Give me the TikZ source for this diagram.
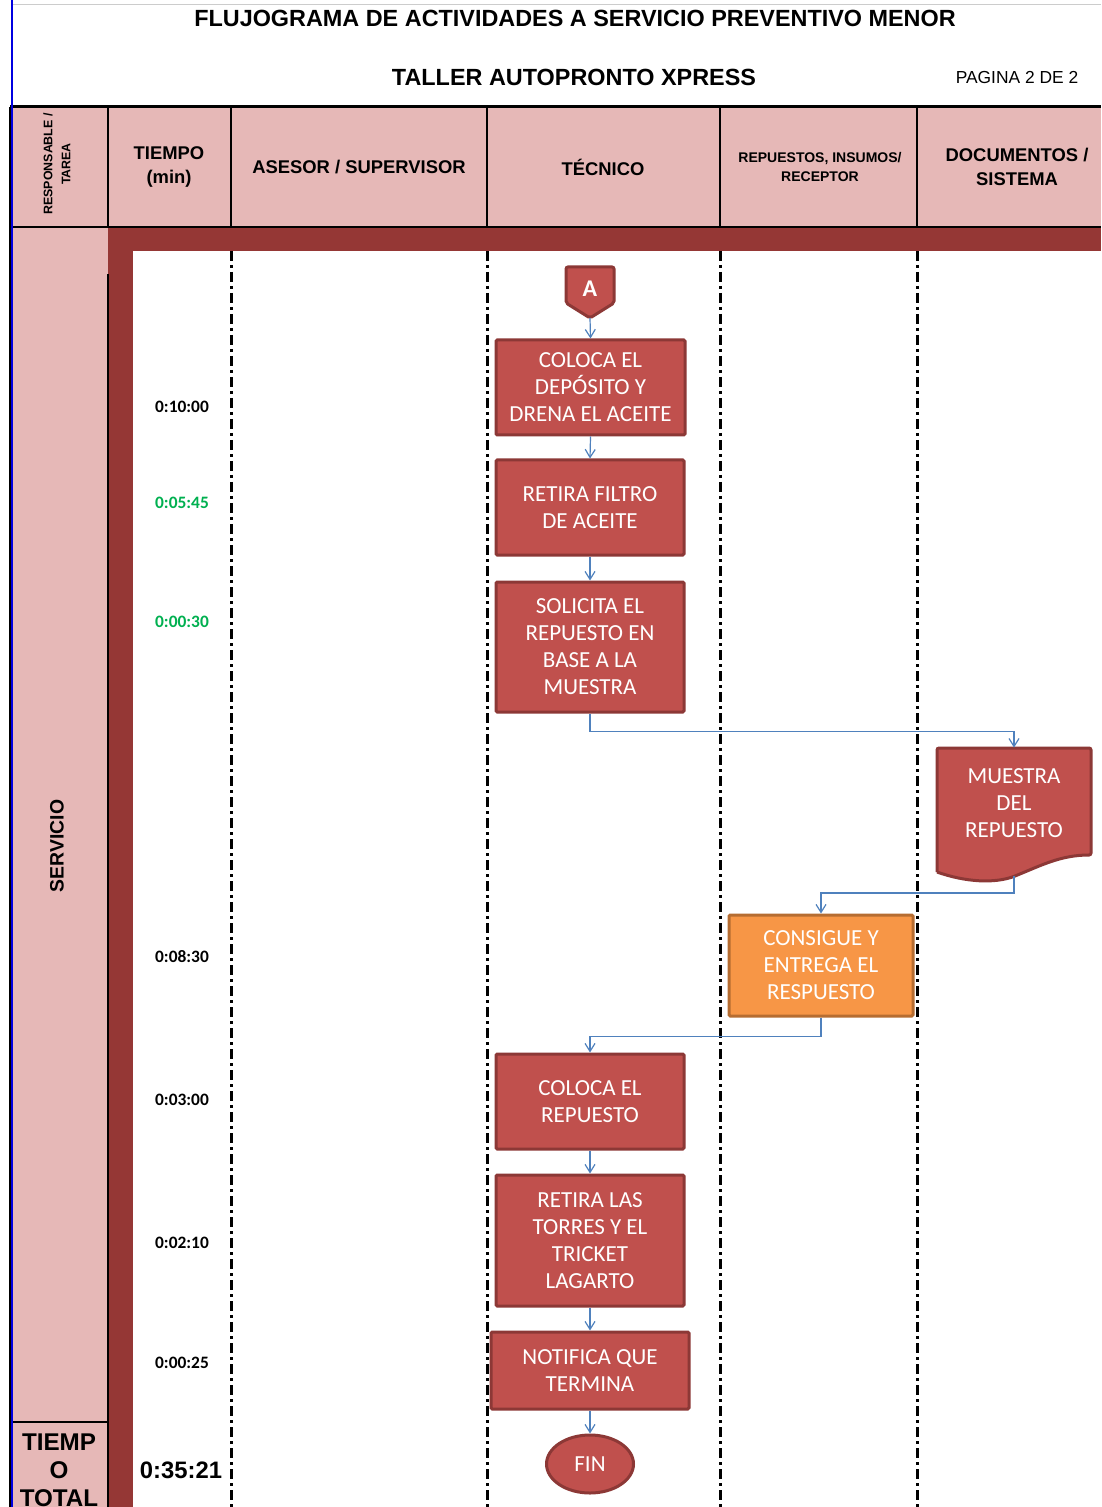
\documentclass[tikz,border=0pt]{standalone}
\usepackage{fontspec}
\setmainfont{Liberation Sans}
\newfontfamily\calib{Carlito}
\usetikzlibrary{arrows.meta,calc,shapes.geometric}
\definecolor{pinkhd}{HTML}{E6B8B7}
\definecolor{band}{HTML}{953735}
\definecolor{boxfill}{HTML}{C0504D}
\definecolor{boxline}{HTML}{8C3836}
\definecolor{orfill}{HTML}{F79646}
\definecolor{orline}{HTML}{B66D31}
\definecolor{flow}{HTML}{4F81BD}
\definecolor{timegreen}{HTML}{00B050}
\definecolor{edgeblue}{HTML}{0000E0}

\begin{document}
\begin{tikzpicture}[x=0.5pt,y=-0.5pt,
  proc/.style={draw=boxline, line width=1.5pt, fill=boxfill, text=white,
    font=\calib\fontsize{11.5}{13.5}\selectfont, align=center, inner sep=0pt,
    rounded corners=0.6pt},
  orproc/.style={proc, draw=orline, fill=orfill},
  hdr/.style={font=\bfseries\fontsize{9.2}{12}\selectfont, align=center, inner sep=0pt},
  tlabel/.style={font=\calib\bfseries\fontsize{8.7}{10}\selectfont, inner sep=0pt},
  lane/.style={line width=1.5pt, dash pattern=on 5pt off 2pt on 1.5pt off 2pt},
  flow/.style={draw=flow, line width=0.6pt, -{Straight Barb[length=4pt,width=5pt]}}]

\useasboundingbox (0,0) rectangle (1101,1507);
\fill[white] (0,0) rectangle (1101,1507);

% title block
\draw[gray!40, line width=0.4pt] (12,4) -- (1101,4);
\node[font=\bfseries\fontsize{11.7}{14}\selectfont, inner sep=0pt] (title) at (575,18)
  {FLUJOGRAMA DE ACTIVIDADES A SERVICIO PREVENTIVO MENOR};
\node[font=\bfseries\fontsize{11.7}{14}\selectfont, inner sep=0pt] (shop) at (574,77)
  {TALLER AUTOPRONTO XPRESS};
\node[font=\fontsize{8.7}{10}\selectfont, inner sep=0pt] (page) at (1017,78) {PAGINA 2 DE 2};

% header row and left column fills
\fill[pinkhd] (10,107) rectangle (1101,227);
\fill[pinkhd] (10,227) rectangle (108,1507);

% dark frame band
\fill[band] (108,227) rectangle (1101,251);
\fill[band] (108,227) rectangle (133,1507);

% header rules
\draw[line width=1.5pt] (10,107) -- (1101,107);
\draw[line width=1pt] (10,227) -- (1101,227);
\foreach \cx in {108,231,487,720,917}
  \draw[line width=1pt] (\cx,107) -- (\cx,227);
\draw[line width=1pt] (108,274) -- (108,1507);
\draw[line width=1pt] (10,1422) -- (108,1422);
\draw[line width=1pt] (10,107) -- (10,1507);
\draw[edgeblue, line width=0.9pt] (11.8,0) -- (11.8,1507);

% swimlane separators
\foreach \cx in {231,487,720,917}
  \draw[lane] (\cx,251) -- (\cx,1507);

% header texts
\begin{scope}
  \clip (12,108) rectangle (107,226);
  \node[font=\bfseries\fontsize{6.2}{9}\selectfont, align=center, rotate=90, inner sep=0pt]
    (resp) at (57,164) {RESPONSABLE /\\TAREA};
\end{scope}
\node[hdr] (htime) at (169,167) {TIEMPO\\(min)};
\node[hdr] (hases) at (359,167) {ASESOR / SUPERVISOR};
\node[hdr] (htec) at (603,167) {TÉCNICO};
\node[hdr, font=\bfseries\fontsize{7}{9.5}\selectfont] (hrep) at (820,167) {REPUESTOS, INSUMOS/\\RECEPTOR};
\node[hdr] (hdoc) at (1017,167) {DOCUMENTOS /\\SISTEMA};

% left column labels
\node[font=\bfseries\fontsize{9.7}{12}\selectfont, rotate=90, inner sep=0pt] (serv) at (57,846) {SERVICIO};
\begin{scope}
  \clip (11,1423) rectangle (107,1507);
  \node[font=\bfseries\fontsize{12.1}{14}\selectfont, align=center, inner sep=0pt]
    (ttot) at (59,1470) {TIEMP\\O\\TOTAL};
\end{scope}

% times
\node[tlabel] (t1) at (182,407) {0:10:00};
\node[tlabel, text=timegreen] (t2) at (182,503) {0:05:45};
\node[tlabel, text=timegreen] (t3) at (182,622) {0:00:30};
\node[tlabel] (t4) at (182,957) {0:08:30};
\node[tlabel] (t5) at (182,1100) {0:03:00};
\node[tlabel] (t6) at (182,1243) {0:02:10};
\node[tlabel] (t7) at (182,1363) {0:00:25};
\node[font=\bfseries\fontsize{11.9}{14}\selectfont, inner sep=0pt] (ttotal) at (181,1470) {0:35:21};

% off-page connector A
\draw[draw=boxline, line width=1.5pt, fill=boxfill, rounded corners=1pt]
  (566,267) -- (614,267) -- (614,303) -- (590,318) -- (566,303) -- cycle;
\node[font=\calib\bfseries\fontsize{12}{14}\selectfont, text=white, inner sep=0pt] (conA) at (590,289) {A};
\coordinate (conAtip) at (590,318);

% process steps
\node[proc, minimum width=94.5pt, minimum height=47.5pt] (b1) at (590.5,387.5)
  {COLOCA EL\\DEPÓSITO Y\\DRENA EL ACEITE};
\node[proc, minimum width=94pt, minimum height=47.5pt] (b2) at (590,507.5)
  {RETIRA FILTRO\\DE ACEITE};
\node[proc, minimum width=94pt, minimum height=65pt] (b3) at (590,647)
  {SOLICITA EL\\REPUESTO EN\\BASE A LA\\MUESTRA};

% document shape
\draw[draw=boxline, line width=1.5pt, fill=boxfill, rounded corners=1pt]
  (937,872) -- (937,748) -- (1091,748) -- (1091,855)
  [sharp corners] .. controls (1060,855) and (1040,866) .. (1015,876)
  .. controls (995,884) and (965,882) .. (937,872);
\node[minimum width=77pt, minimum height=53.5pt, inner sep=0pt] (doc) at (1014,801.5) {};
\node[font=\calib\fontsize{11.5}{13.5}\selectfont, text=white, align=center, inner sep=0pt]
  (doctxt) at (1014,803) {MUESTRA\\DEL\\REPUESTO};
\coordinate (docb) at (1014,876);

\node[orproc, minimum width=92pt, minimum height=50.5pt] (ord) at (821,965.5)
  {CONSIGUE Y\\ENTREGA EL\\RESPUESTO};
\node[proc, minimum width=94pt, minimum height=47.5pt] (b4) at (590,1101.5)
  {COLOCA EL\\REPUESTO};
\node[proc, minimum width=94pt, minimum height=65.5pt] (b5) at (590,1240.5)
  {RETIRA LAS\\TORRES Y EL\\TRICKET\\LAGARTO};
\node[proc, minimum width=99pt, minimum height=38.5pt] (b6) at (590,1370.5)
  {NOTIFICA QUE\\TERMINA};
\node[proc, ellipse, minimum width=43.5pt, minimum height=29pt, rounded corners=0pt] (fin) at (590,1464)
  {FIN};

% connectors
\draw[flow] (conAtip) -- (b1.north);
\draw[flow] (b1.south) -- (b2.north);
\draw[flow] (b2.south) -- (b3.north);
\draw[flow] (b3.south) -- ++(0,18) -| (doc.north);
\draw[flow] (docb) -- ($(docb)+(0,17)$) -| (ord.north);
\draw[flow] (ord.south) -- ++(0,19) -| (b4.north);
\draw[flow] (b4.south) -- (b5.north);
\draw[flow] (b5.south) -- (b6.north);
\draw[flow] (b6.south) -- (fin.north);
\end{tikzpicture}
\end{document}
